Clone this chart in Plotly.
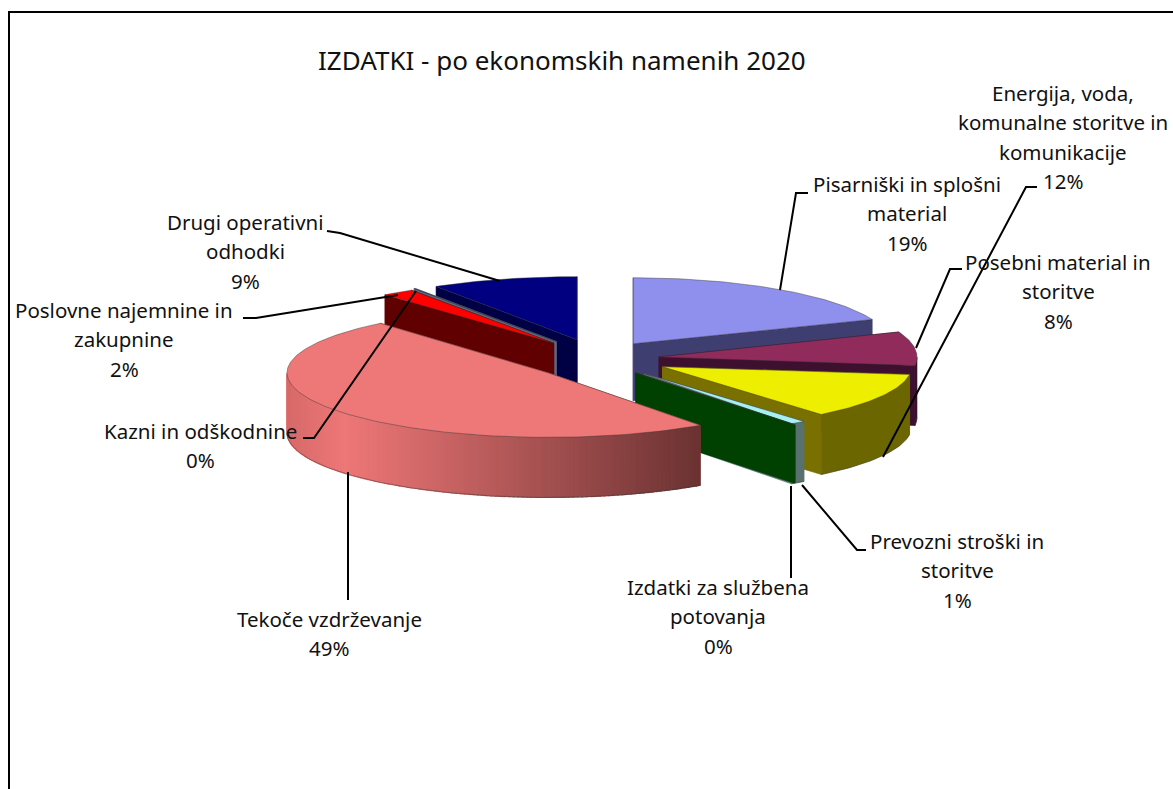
import math
import plotly.graph_objects as go

# ---------- data ----------
categories = ["Pisarniški in splošni material", "Posebni material in storitve",
              "Energija, voda, komunalne storitve in komunikacije",
              "Prevozni stroški in storitve", "Izdatki za službena potovanja",
              "Tekoče vzdrževanje", "Poslovne najemnine in zakupnine",
              "Kazni in odškodnine", "Drugi operativni odhodki"]
values = [19.0, 8.0, 12.0, 1.0, 0.1, 48.8, 2.0, 0.1, 9.0]
pct_labels = ["19%", "8%", "12%", "1%", "0%", "49%", "2%", "0%", "9%"]
title_text = "IZDATKI - po ekonomskih namenih 2020"
label_lines = [
    ["Pisarniški in splošni", "material"],
    ["Posebni material in", "storitve"],
    ["Energija, voda,", "komunalne storitve in", "komunikacije"],
    ["Prevozni stroški in", "storitve"],
    ["Izdatki za službena", "potovanja"],
    ["Tekoče vzdrževanje"],
    ["Poslovne najemnine in", "zakupnine"],
    ["Kazni in odškodnine"],
    ["Drugi operativni", "odhodki"],
]

# ---------- styling / projection ----------
CX, CY, PULL, RX0, RY0 = 598, 358, 0.25, 258, 64
rx_by = [257, 258, 249, 250, 271, 261, 263, 263, 263]
ry_by = [66, 68, 62, 62, 64, 64.6, 63, 63, 63]
depth_by = [57, 60, 60, 60, 58, 60, 58, 58, 58]
nudge = [(-1, -1), (-3, 1), (8, 1), (7, 3), (0, 2), (1, 5), (-6, -2), (-7, -3), (-3, -3)]
top_col = ["#8F8FEE", "#902B5C", "#EEEE00", "#A6F0F0", "#005000", "#EE7777", "#FF0000", "#98A4C8", "#000080"]
wall_col = ["#3E3E70", "#3E1030", "#7A7000", "#587070", "#004000", "#A05050", "#600000", "#606880", "#000045"]
side_col = ["#3E3E70", "#3E1030", "#6B6600", "#587070", "#004000", None, "#600000", "#606880", "#000045"]
paint_order = [0, 8, 7, 1, 2, 3, 4, 6, 5]
label_cx = [907, 1058, 1063, 957, 718, 329, 124, 200, 245]
label_y0 = [184, 262, 93, 541, 587, 619, 310, 431, 222]
LINE_PITCH = 29.3
FONT = "Noto Sans"
FSIZE = 20.5
TITLE_SIZE = 26
leaders = [
    ([808, 796, 780], [193, 193, 290]),
    ([962, 950, 916], [269, 269, 348]),
    ([1037, 1026, 883], [187, 187, 457]),
    ([327, 340, 500], [231, 233, 281]),
    ([243, 256, 398], [318, 318, 295]),
    ([303, 314, 416], [438, 438, 291]),
    ([348, 348], [472, 600]),
    ([791, 791], [486, 578]),
    ([802, 857, 866], [485, 550, 550]),
]


def mix(c1, c2, t):
    a = [int(c1[i:i + 2], 16) for i in (1, 3, 5)]
    b = [int(c2[i:i + 2], 16) for i in (1, 3, 5)]
    return "#%02x%02x%02x" % tuple(round(a[k] + (b[k] - a[k]) * t) for k in range(3))


fig = go.Figure()


def poly(xs, ys, fill, line=None, w=0.6):
    fig.add_trace(go.Scatter(
        x=list(xs) + [xs[0]], y=list(ys) + [ys[0]], mode="lines", fill="toself",
        fillcolor=fill, line=dict(color=line or fill, width=w),
        hoverinfo="skip", showlegend=False))


total = sum(values)
starts, acc = [], 0.0
for v in values:
    starts.append(acc / total * 360)
    acc += v


def draw_slice(i):
    a0 = starts[i]
    a1 = a0 + values[i] / total * 360
    mid = math.radians((a0 + a1) / 2)
    ax = CX + PULL * RX0 * math.sin(mid) + nudge[i][0]
    ay = CY - PULL * RY0 * math.cos(mid) + nudge[i][1]
    rx, ry, d = rx_by[i], ry_by[i], depth_by[i]

    def pt(a):
        r = math.radians(a)
        return ax + rx * math.sin(r), ay - ry * math.cos(r)

    # radial walls, back one first
    walls = sorted([a0, a1], key=lambda a: pt(a)[1])
    for a in walls:
        x, y = pt(a)
        poly([ax, x, x, ax], [ay, y, y + d, ay + d], wall_col[i])

    # outer rim, only the part facing the viewer
    lo, hi = max(a0, 90), min(a1, 270)
    if hi > lo:
        n2 = max(2, int(hi - lo))
        arc = [pt(lo + (hi - lo) * k / n2) for k in range(n2 + 1)]
        col = side_col[i]
        if col is None:
            for k in range(n2):
                (x0, y0), (x1, y1) = arc[k], arc[k + 1]
                xm = (x0 + x1) / 2
                if xm < 345:
                    c = mix("#D86A6A", "#EE7777", (xm - 288) / 57)
                else:
                    c = mix("#EE7777", "#6B3232", (xm - 345) / 355)
                poly([x0, x1, x1, x0], [y0, y1, y1 + d, y0 + d], c, w=1.2)
        else:
            xs = [p[0] for p in arc] + [p[0] for p in reversed(arc)]
            ys = [p[1] for p in arc] + [p[1] + d for p in reversed(arc)]
            poly(xs, ys, col)
        # lower edge of the rim
        fig.add_trace(go.Scatter(x=[p[0] for p in arc], y=[p[1] + d for p in arc], mode="lines",
                                 line=dict(color="rgba(50,50,50,0.55)", width=0.8),
                                 hoverinfo="skip", showlegend=False))

    # top face
    n = max(2, int(a1 - a0))
    arc = [pt(a0 + (a1 - a0) * k / n) for k in range(n + 1)]
    poly([ax] + [p[0] for p in arc], [ay] + [p[1] for p in arc], top_col[i],
         "rgba(50,50,50,0.55)", 0.8)


for idx in paint_order:
    draw_slice(idx)

for lx, ly in leaders:
    fig.add_trace(go.Scatter(x=lx, y=ly, mode="lines", line=dict(color="#000", width=2),
                             hoverinfo="skip", showlegend=False))

annotations = []
for i, lines in enumerate(label_lines):
    for j, t in enumerate(lines + [pct_labels[i]]):
        annotations.append(dict(x=label_cx[i], y=label_y0[i] + j * LINE_PITCH, text=t,
                                xref="x", yref="y", showarrow=False, xanchor="center",
                                yanchor="middle", font=dict(family=FONT, size=FSIZE, color="#111")))
annotations.append(dict(x=562, y=60, text=title_text, xref="x", yref="y", showarrow=False,
                        xanchor="center", yanchor="middle",
                        font=dict(family=FONT, size=TITLE_SIZE, color="#111")))

fig.update_layout(
    width=1173, height=789, margin=dict(l=0, r=0, t=0, b=0),
    paper_bgcolor="white", plot_bgcolor="white", showlegend=False,
    xaxis=dict(range=[0, 1173], visible=False, fixedrange=True),
    yaxis=dict(range=[789, 0], visible=False, fixedrange=True),
    annotations=annotations,
    shapes=[
        dict(type="line", x0=9, x1=9, y0=12, y1=789, xref="x", yref="y", line=dict(color="#000", width=2)),
        dict(type="line", x0=8, x1=1173, y0=12, y1=12, xref="x", yref="y", line=dict(color="#000", width=2)),
    ],
)
fig.write_html("out.html", post_script="document.body.style.margin='0';document.body.style.overflow='hidden';",
               config={"displayModeBar": False})
